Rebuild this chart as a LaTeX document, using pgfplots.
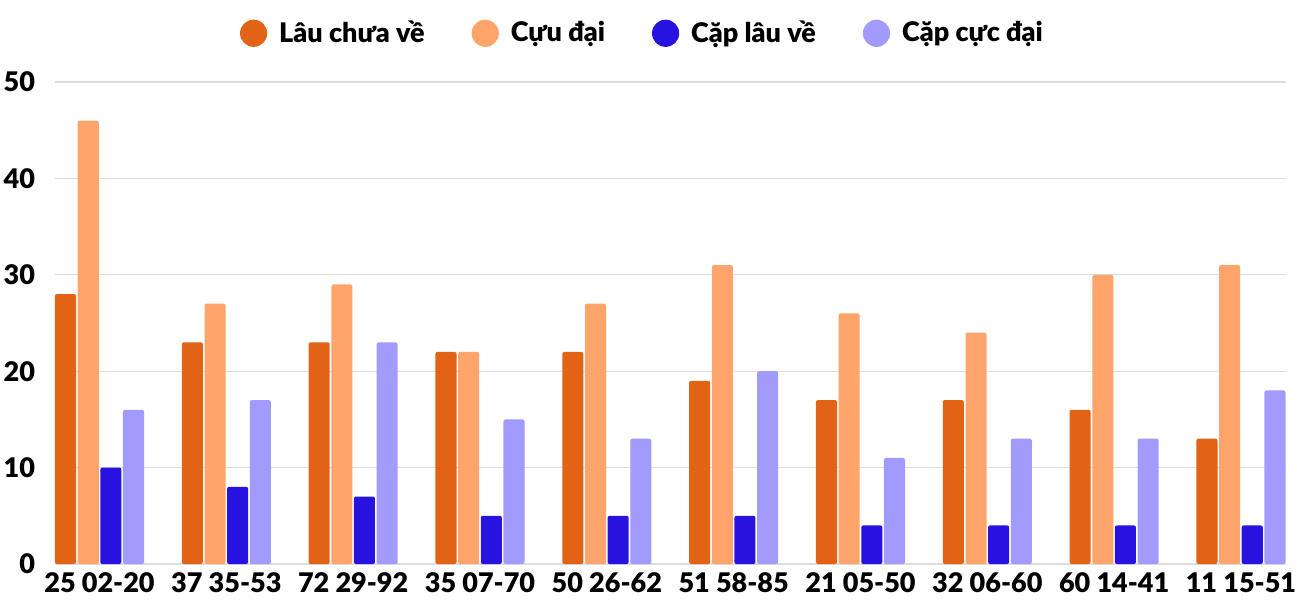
\documentclass[border=0pt]{standalone}
\usepackage{fontspec}
\setmainfont{Lato}[BoldFont={Lato Black}]
\usepackage{pgfplots}
\pgfplotsset{compat=1.18}
\definecolor{cA}{HTML}{E26316}
\definecolor{cB}{HTML}{FFA46A}
\definecolor{cC}{HTML}{2712E0}
\definecolor{cD}{HTML}{A29BFE}
\definecolor{gridc}{HTML}{DDDDDD}
\begin{document}
\begin{tikzpicture}
\begin{axis}[
  at={(0,0)}, anchor=south west,
  scale only axis,
  width=615.5pt, height=241pt,
  xmin=-0.351, xmax=9.355,
  ymin=0, ymax=50,
  ytick={0,10,20,30,40,50},
  xtick={0,...,9},
  xticklabels={25 02-20,37 35-53,72 29-92,35 07-70,50 26-62,51 58-85,21 05-50,32 06-60,60 14-41,11 15-51},
  axis line style={draw=none},
  major tick length=0pt,
  ymajorgrids,
  grid style={gridc, line width=0.6pt},
  yticklabel style={font=\fontsize{13.5}{15}\selectfont\bfseries, xshift=-6.5pt},
  xticklabel style={font=\fontsize{13.5}{15}\selectfont\bfseries, yshift=-1pt},
  /pgf/number format/assume math mode=true,
  bar width=0.166,
  legend style={at={(0.478,1.0)}, yshift=14pt, anchor=south, draw=none, fill=none,
    legend columns=-1, font=\fontsize{13.5}{15}\selectfont\bfseries,
    /tikz/every even column/.append style={column sep=21.5pt}},
  legend image code/.code={\fill[#1] (0cm,0cm) circle (6.8pt); \path (10.8pt,0);},
]
\addplot[ybar, fill=cA, draw=none, bar shift=-0.268, rounded corners=1pt] coordinates {(0,28) (1,23) (2,23) (3,22) (4,22) (5,19) (6,17) (7,17) (8,16) (9,13)};
\addplot[ybar, fill=cB, draw=none, bar shift=-0.089, rounded corners=1pt] coordinates {(0,46) (1,27) (2,29) (3,22) (4,27) (5,31) (6,26) (7,24) (8,30) (9,31)};
\addplot[ybar, fill=cC, draw=none, bar shift=0.089, rounded corners=1pt] coordinates {(0,10) (1,8) (2,7) (3,5) (4,5) (5,5) (6,4) (7,4) (8,4) (9,4)};
\addplot[ybar, fill=cD, draw=none, bar shift=0.268, rounded corners=1pt] coordinates {(0,16) (1,17) (2,23) (3,15) (4,13) (5,20) (6,11) (7,13) (8,13) (9,18)};
\legend{Lâu chưa về, Cựu đại, Cặp lâu về, Cặp cực đại}
\end{axis}
\pgfresetboundingbox
\path[use as bounding box] ([xshift=-27.5pt,yshift=-18pt]current axis.south west) rectangle ([xshift=7pt,yshift=41pt]current axis.north east);
\end{tikzpicture}
\end{document}
